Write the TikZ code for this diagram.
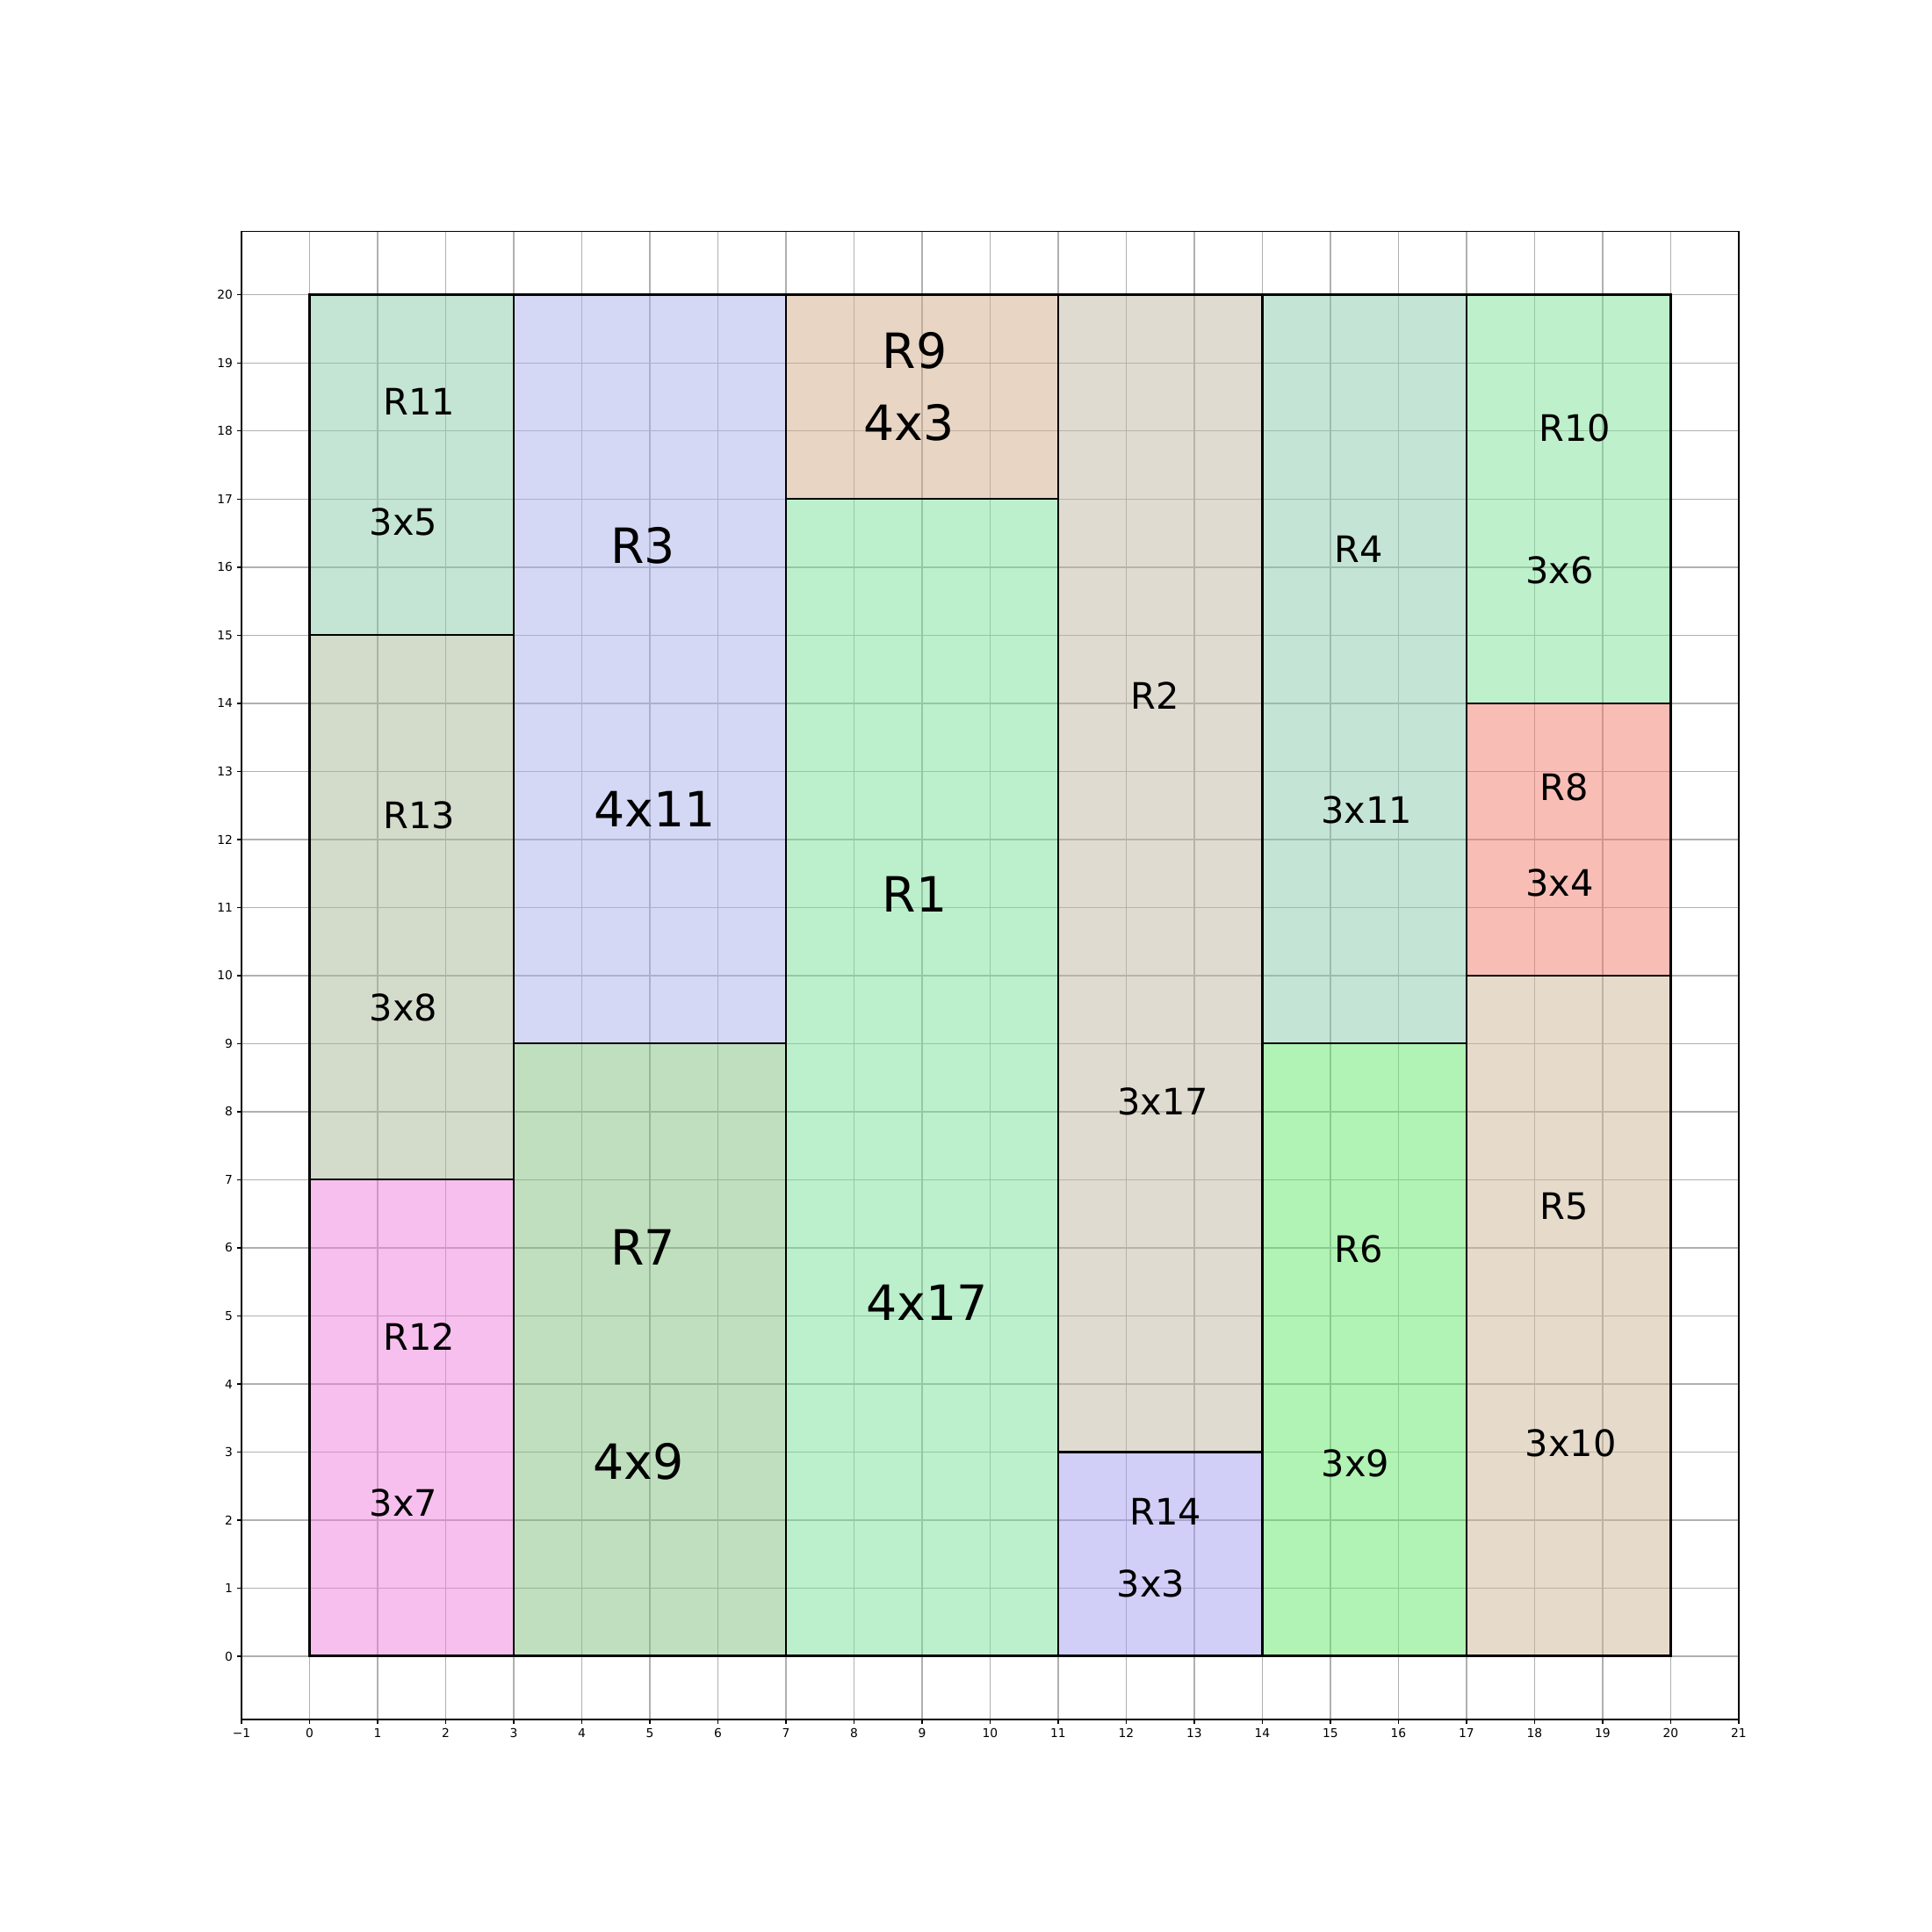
\documentclass[tikz,border=0pt]{standalone}
\usepackage{fontspec}
\setmainfont{DejaVu Sans}
\usetikzlibrary{positioning}

% fill colours (drawn at half opacity)
\definecolor{gridgray}{HTML}{B0B0B0}
\definecolor{cRone}{RGB}{121,223,151}
\definecolor{cRtwo}{RGB}{193,183,161}
\definecolor{cRthree}{RGB}{171,177,235}
\definecolor{cRfour}{RGB}{137,203,173}
\definecolor{cRfive}{RGB}{205,183,151}
\definecolor{cRsix}{RGB}{99,231,105}
\definecolor{cRseven}{RGB}{129,191,127}
\definecolor{cReight}{RGB}{241,123,107}
\definecolor{cRnine}{RGB}{209,171,137}
\definecolor{cRten}{RGB}{123,225,151}
\definecolor{cReleven}{RGB}{137,203,169}
\definecolor{cRtwelve}{RGB}{239,127,221}
\definecolor{cRthirteen}{RGB}{167,183,151}
\definecolor{cRfourteen}{RGB}{163,157,241}

\tikzset{block/.style={draw=black,line width=1.5pt,fill opacity=0.5,draw opacity=1},
    gridline/.style={draw=gridgray,line width=0.8pt},
    spine/.style={draw=black,line width=0.8pt},
    big label/.style={font=\fontsize{40}{48}\selectfont,inner sep=0pt},
    small label/.style={font=\fontsize{30}{36}\selectfont,inner sep=0pt},
    tick label/.style={font=\fontsize{10}{12}\selectfont,inner sep=0pt}}

\begin{document}
\begin{tikzpicture}[x=0.775in,y=0.775in]
  \useasboundingbox (-4.548,-4.052) rectangle (23.839,24.335);

  % grid
  \foreach \i in {-1,...,21}
    \draw[gridline] (\i,-0.929) -- (\i,20.929);
  \foreach \j in {0,...,20}
    \draw[gridline] (-1,\j) -- (21,\j);

  % rectangles
  \draw[block, fill=cReleven] (0,15) rectangle (3,20);
  \draw[block, fill=cRthirteen] (0,7) rectangle (3,15);
  \draw[block, fill=cRtwelve] (0,0) rectangle (3,7);
  \draw[block, fill=cRthree] (3,9) rectangle (7,20);
  \draw[block, fill=cRseven] (3,0) rectangle (7,9);
  \draw[block, fill=cRnine] (7,17) rectangle (11,20);
  \draw[block, fill=cRone] (7,0) rectangle (11,17);
  \draw[block, fill=cRtwo] (11,3) rectangle (14,20);
  \draw[block, fill=cRfourteen] (11,0) rectangle (14,3);
  \draw[block, fill=cRfour] (14,9) rectangle (17,20);
  \draw[block, fill=cRsix] (14,0) rectangle (17,9);
  \draw[block, fill=cRten] (17,14) rectangle (20,20);
  \draw[block, fill=cReight] (17,10) rectangle (20,14);
  \draw[block, fill=cRfive] (17,0) rectangle (20,10);
  \draw[line width=2.2pt] (0,0) rectangle (20,20);

  % labels
  \node[small label] (r11) at (1.61,18.43) {R11};
  \node[small label] (r11s) at (1.38,16.67) {3x5};
  \node[small label] (r13) at (1.61,12.36) {R13};
  \node[small label] (r13s) at (1.38,9.53) {3x8};
  \node[small label] (r12) at (1.61,4.69) {R12};
  \node[small label] (r12s) at (1.38,2.25) {3x7};
  \node[big label] (r3) at (4.9,16.32) {R3};
  \node[big label] (r3s) at (5.07,12.45) {4x11};
  \node[big label] (r7) at (4.9,6.01) {R7};
  \node[big label] (r7s) at (4.83,2.86) {4x9};
  \node[big label] (r9) at (8.89,19.18) {R9};
  \node[big label] (r9s) at (8.81,18.12) {4x3};
  \node[big label] (r1) at (8.89,11.19) {R1};
  \node[big label] (r1s) at (9.07,5.2) {4x17};
  \node[small label] (r2) at (12.42,14.11) {R2};
  \node[small label] (r2s) at (12.54,8.15) {3x17};
  \node[small label] (r14) at (12.58,2.12) {R14};
  \node[small label] (r14s) at (12.36,1.07) {3x3};
  \node[small label] (r4) at (15.42,16.27) {R4};
  \node[small label] (r4s) at (15.53,12.43) {3x11};
  \node[small label] (r6) at (15.42,5.98) {R6};
  \node[small label] (r6s) at (15.37,2.83) {3x9};
  \node[small label] (r10) at (18.59,18.04) {R10};
  \node[small label] (r10s) at (18.37,15.96) {3x6};
  \node[small label] (r8) at (18.43,12.77) {R8};
  \node[small label] (r8s) at (18.37,11.36) {3x4};
  \node[small label] (r5) at (18.43,6.61) {R5};
  \node[small label] (r5s) at (18.53,3.13) {3x10};

  % axes frame and ticks
  \draw[spine] (-1,-0.929) rectangle (21,20.929);
  \foreach \i in {-1,...,21}
    \draw[spine] (\i,-0.929) -- ++(0pt,-3.5pt);
  \foreach \j in {0,...,20}
    \draw[spine] (-1,\j) -- ++(-3.5pt,0pt);
  \node[tick label, below=7pt] (xtm1) at (-1,-0.929) {−1};
  \foreach \i in {0,...,21}
    \node[tick label, below=7pt] (xt\i) at (\i,-0.929) {\i};
  \foreach \j in {0,...,20}
    \node[tick label, left=7pt] (yt\j) at (-1,\j) {\j};
\end{tikzpicture}
\end{document}
